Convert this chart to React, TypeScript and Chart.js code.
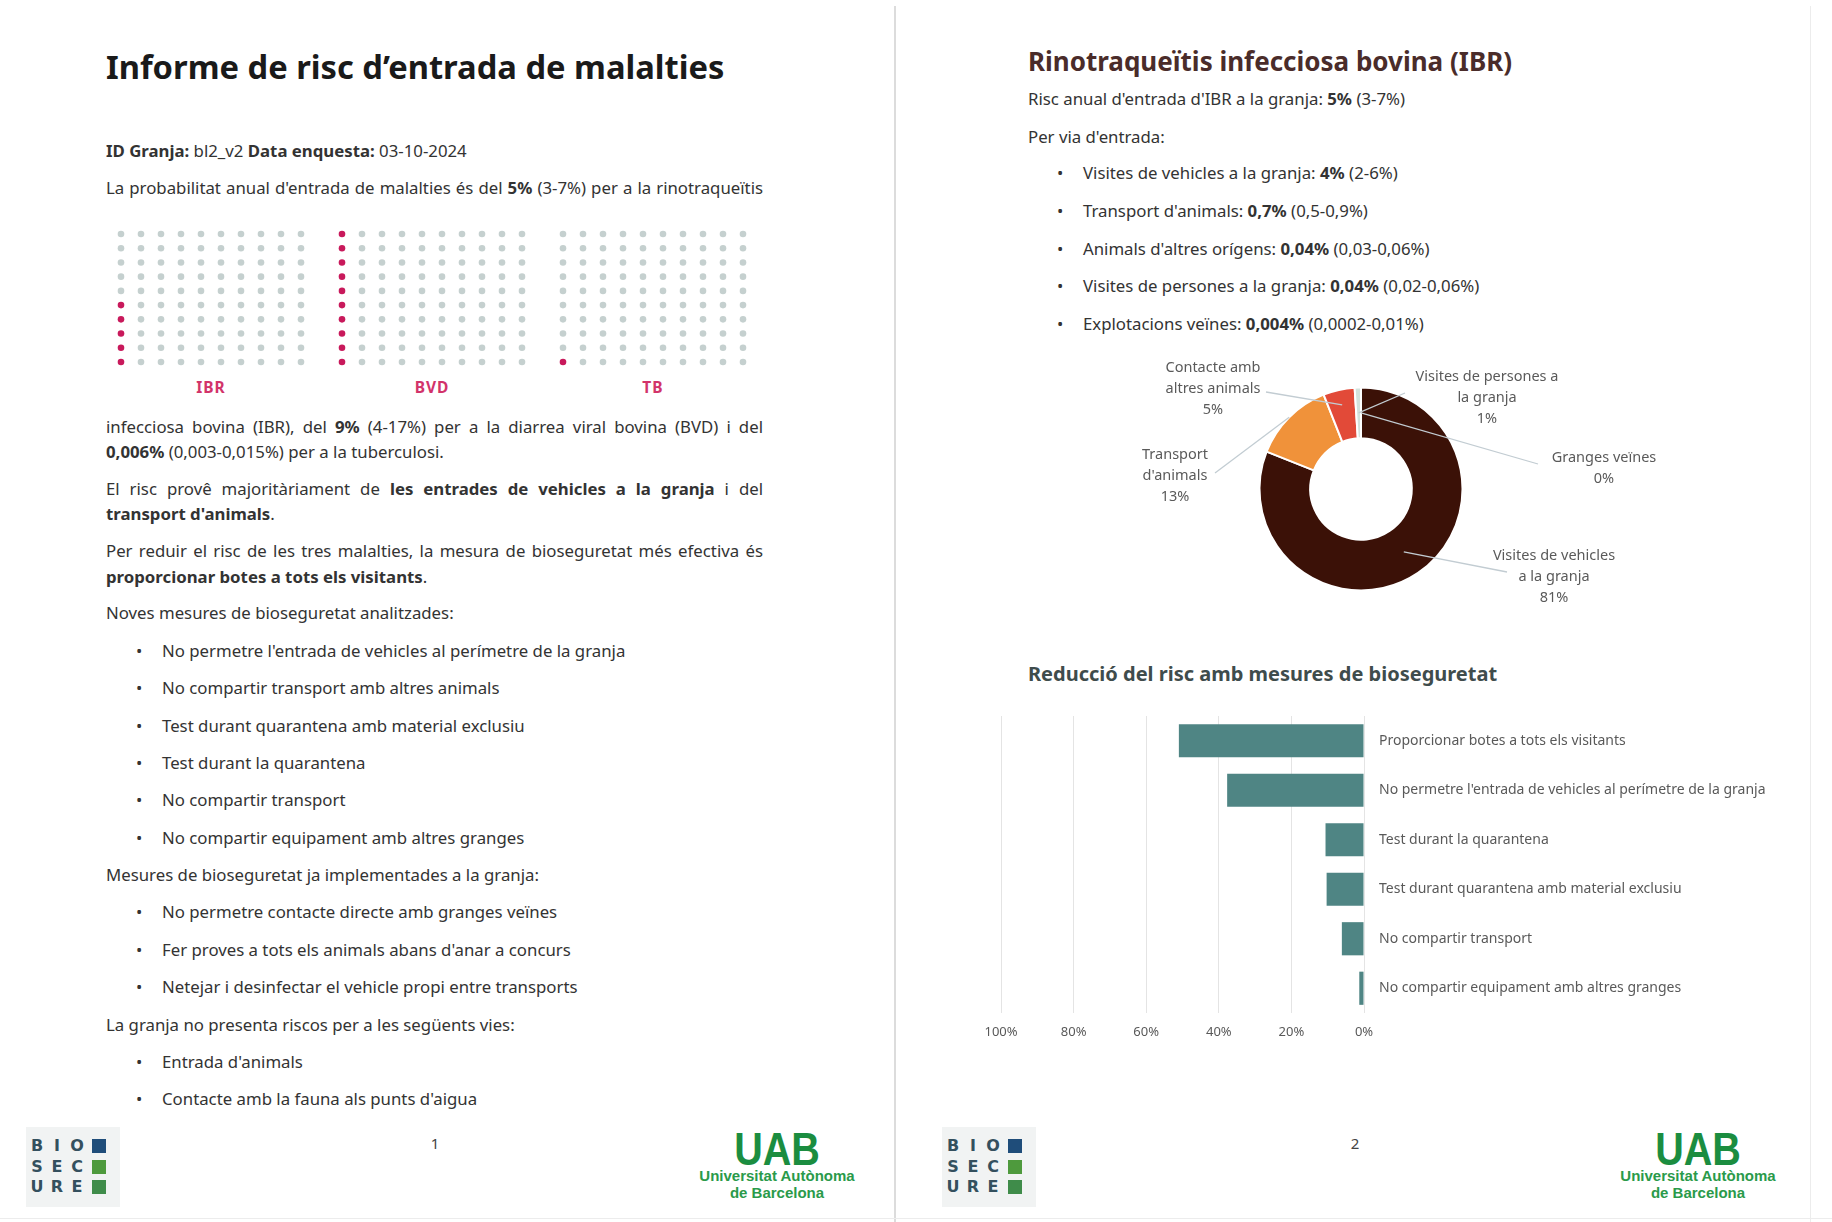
import React, { useEffect, useRef } from "react";
import { Chart, registerables } from "chart.js";

Chart.register(...registerables);

// ---------------- data ----------------
const waffleDiseases = ["IBR", "BVD", "TB"];
const waffleRedDots = [5, 10, 1];
const waffleGridSize = 10;

const routeNames = [
  "Visites de vehicles a la granja",
  "Transport d'animals",
  "Contacte amb altres animals",
  "Visites de persones a la granja",
  "Granges veïnes",
];
const routeLabelLines = [
  ["Visites de vehicles", "a la granja"],
  ["Transport", "d'animals"],
  ["Contacte amb", "altres animals"],
  ["Visites de persones a", "la granja"],
  ["Granges veïnes"],
];
const routeShares = [81, 13, 5, 1, 0];

const measureLabels = [
  "Proporcionar botes a tots els visitants",
  "No permetre l'entrada de vehicles al perímetre de la granja",
  "Test durant la quarantena",
  "Test durant quarantena amb material exclusiu",
  "No compartir transport",
  "No compartir equipament amb altres granges",
];
const measureReduction = [51, 37.7, 10.6, 10.3, 6.1, 1.3];
const reductionTicks = [0, 20, 40, 60, 80, 100];

// ---------------- style ----------------
const FONT = '"Noto Sans", "Open Sans", sans-serif';
const RED = "#c8195b";
const GREY = "#c5d0cf";
const routeColors = ["#3b1107", "#f0923a", "#e24a38", "#d3e2dc", "#9e9e9e"];
// label layout (canvas coords) for donut labels
const donutLabelPos = [
  { x: 434, y: 216, ax: 387, ay: 232, depth: 0.5 },
  { x: 55, y: 114.5, ax: 95, ay: 133, depth: 0 },
  { x: 93, y: 28, ax: 146, ay: 52, depth: 0.3 },
  { x: 367, y: 37, ax: 285, ay: 53, depth: 0.5 },
  { x: 484, y: 118, ax: 418, ay: 124, depth: 0.5 },
];

Chart.defaults.font.family = FONT;

function Waffle({ index, left, top }: { index: number; left: number; top: number }) {
  const ref = useRef<HTMLCanvasElement>(null);
  useEffect(() => {
    const pts: { x: number; y: number }[] = [];
    const colors: string[] = [];
    for (let c = 0; c < waffleGridSize; c++) {
      for (let r = 0; r < waffleGridSize; r++) {
        const i = c * waffleGridSize + r;
        pts.push({ x: c, y: r });
        colors.push(i < waffleRedDots[index] ? RED : GREY);
      }
    }
    const chart = new Chart(ref.current!, {
      type: "scatter",
      data: {
        datasets: [
          {
            data: pts,
            pointBackgroundColor: colors,
            pointBorderWidth: 0,
            pointRadius: 3.3,
            clip: false,
          } as any,
        ],
      },
      options: {
        responsive: false,
        animation: false,
        events: [],
        layout: { padding: 10 },
        scales: {
          x: { display: false, min: 0, max: waffleGridSize - 1 },
          y: { display: false, min: 0, max: waffleGridSize - 1 },
        },
        plugins: { legend: { display: false }, tooltip: { enabled: false } },
      },
    });
    return () => chart.destroy();
  }, [index]);
  return (
    <>
      <canvas ref={ref} width={200} height={148} style={{ position: "absolute", left, top }} />
      <div
        style={{
          position: "absolute",
          left,
          width: 200,
          top: 376,
          lineHeight: "22px",
          textAlign: "center",
          color: "#d2336a",
          fontWeight: 700,
          fontSize: 15.5,
          letterSpacing: 1,
        }}
      >
        {waffleDiseases[index]}
      </div>
    </>
  );
}

const donutLabelPlugin = {
  id: "donutLabels",
  afterDatasetsDraw(chart: any) {
    const ctx = chart.ctx as CanvasRenderingContext2D;
    const meta = chart.getDatasetMeta(0);
    meta.data.forEach((arc: any, i: number) => {
      const p = arc.getProps(["x", "y", "startAngle", "endAngle", "innerRadius", "outerRadius"], true);
      const mid = (p.startAngle + p.endAngle) / 2;
      const L = donutLabelPos[i];
      const r = p.outerRadius - L.depth * (p.outerRadius - p.innerRadius);
      const ex = p.x + Math.cos(mid) * r;
      const ey = p.y + Math.sin(mid) * r;
      ctx.save();
      ctx.strokeStyle = "#c2ccd2";
      ctx.lineWidth = 1.3;
      ctx.beginPath();
      ctx.moveTo(L.ax, L.ay);
      ctx.lineTo(ex, ey);
      ctx.stroke();
      ctx.fillStyle = "#5a5a5a";
      ctx.font = `14.5px ${FONT}`;
      ctx.textAlign = "center";
      ctx.textBaseline = "middle";
      const lines = [...routeLabelLines[i], `${routeShares[i]}%`];
      lines.forEach((t, k) => ctx.fillText(t, L.x, L.y + k * 21));
      ctx.restore();
    });
  },
};

function Donut() {
  const ref = useRef<HTMLCanvasElement>(null);
  useEffect(() => {
    const chart = new Chart(ref.current!, {
      type: "doughnut",
      data: {
        labels: routeNames,
        datasets: [
          {
            data: routeShares,
            backgroundColor: routeColors,
            borderColor: "#ffffff",
            borderWidth: 2,
          },
        ],
      },
      options: {
        responsive: false,
        animation: false,
        events: [],
        cutout: "50%",
        layout: { padding: { left: 138.5, right: 276.5, top: 46.5, bottom: 38.5 } },
        plugins: { legend: { display: false }, tooltip: { enabled: false } },
      },
      plugins: [donutLabelPlugin],
    });
    return () => chart.destroy();
  }, []);
  return <canvas ref={ref} width={620} height={290} style={{ position: "absolute", left: 1120, top: 340 }} />;
}

function Bars() {
  const ref = useRef<HTMLCanvasElement>(null);
  useEffect(() => {
    const chart = new Chart(ref.current!, {
      type: "bar",
      data: {
        labels: measureLabels,
        datasets: [
          {
            data: measureReduction,
            backgroundColor: "#4f8584",
            categoryPercentage: 1,
            barPercentage: 0.67,
          },
        ],
      },
      options: {
        indexAxis: "y",
        responsive: false,
        animation: false,
        events: [],
        layout: { padding: { left: 21, right: 16, top: 16, bottom: 7 } },
        plugins: { legend: { display: false }, tooltip: { enabled: false } },
        scales: {
          x: {
            reverse: true,
            min: 0,
            max: 100,
            afterBuildTicks: (s: any) => {
              s.ticks = reductionTicks.map((v) => ({ value: v }));
            },
            ticks: {
              callback: (v: any) => `${v}%`,
              color: "#595959",
              font: { size: 13, family: FONT },
              padding: 11,
              maxRotation: 0,
            },
            grid: { color: "#e4e4e4", drawTicks: false },
            border: { display: false },
            afterFit: (s: any) => {
              s.height = 30;
              s.paddingLeft = 0;
              s.paddingRight = 0;
            },
          },
          y: {
            position: "right",
            ticks: { color: "#595959", font: { size: 14, family: FONT }, padding: 15 },
            grid: { display: false, drawTicks: false },
            border: { display: false },
            afterFit: (s: any) => {
              s.width = 420;
              s.paddingTop = 0;
              s.paddingBottom = 0;
            },
          },
        },
      },
    });
    return () => chart.destroy();
  }, []);
  return <canvas ref={ref} width={820} height={350} style={{ position: "absolute", left: 980, top: 700 }} />;
}

const LH = 24.4;

function Line({
  x,
  cy,
  w,
  justify,
  children,
  style,
}: {
  x: number;
  cy: number;
  w?: number;
  justify?: boolean;
  children: React.ReactNode;
  style?: React.CSSProperties;
}) {
  return (
    <div
      style={{
        position: "absolute",
        left: x,
        top: cy - LH / 2,
        width: w,
        lineHeight: `${LH}px`,
        whiteSpace: "nowrap",
        textAlign: justify ? "justify" : "left",
        textAlignLast: justify ? "justify" : "left",
        ...style,
      }}
    >
      {children}
    </div>
  );
}

function Bullet({ bx, tx, cy, children, size }: { bx: number; tx: number; cy: number; children: React.ReactNode; size: number }) {
  return (
    <>
      <Line x={bx} cy={cy} style={{ fontSize: size }}>
        •
      </Line>
      <Line x={tx} cy={cy} style={{ fontSize: size }}>
        {children}
      </Line>
    </>
  );
}

function BioSecure({ left }: { left: number }) {
  const rows = [
    ["B", "I", "O", "#1f4d7a"],
    ["S", "E", "C", "#4e9a3d"],
    ["U", "R", "E", "#3f8c4a"],
  ];
  return (
    <div
      style={{
        position: "absolute",
        left,
        top: 1127,
        width: 94,
        height: 80,
        background: "#f1f3f3",
      }}
    >
      {rows.map((r, k) => (
        <div key={k} style={{ position: "absolute", top: 11 + k * 20.5, left: 0, height: 16 }}>
          {[0, 1, 2].map((j) => (
            <span
              key={j}
              style={{
                position: "absolute",
                left: 4 + j * 20,
                width: 14,
                textAlign: "center",
                fontFamily: '"DejaVu Sans", sans-serif',
                fontWeight: 700,
                fontSize: 16,
                lineHeight: "16px",
                color: "#34505e",
              }}
            >
              {r[j]}
            </span>
          ))}
          <span
            style={{
              position: "absolute",
              left: 66,
              top: 1,
              width: 14,
              height: 14,
              background: r[3],
            }}
          />
        </div>
      ))}
    </div>
  );
}

function UAB({ cx }: { cx: number }) {
  return (
    <div style={{ position: "absolute", left: cx - 110, top: 1126, width: 220, textAlign: "center", color: "#1b8d40" }}>
      <div
        style={{
          fontFamily: '"Liberation Sans", Arial, sans-serif',
          fontWeight: 700,
          fontSize: 46,
          lineHeight: "46px",
          transform: "scaleX(0.86)",
        }}
      >
        UAB
      </div>
      <div
        style={{
          fontFamily: '"Liberation Sans", Arial, sans-serif',
          fontWeight: 700,
          fontSize: 15,
          lineHeight: "16.5px",
          marginTop: -4,
          color: "#2a9a4a",
        }}
      >
        Universitat Autònoma
        <br />
        de Barcelona
      </div>
    </div>
  );
}

export default function App() {
  useEffect(() => {
    document.body.style.margin = "0";
    document.body.style.background = "#ffffff";
  }, []);
  const P1 = 106;
  const W1 = 657;
  const P2 = 1028;
  const fs1 = 16.8;
  const fs2 = 16.8;
  const b1 = [651, 688.5, 726, 763, 800.5, 838];
  const b2 = [912.5, 950, 987];
  const b3 = [1062, 1099.5];
  const b4 = [173, 211, 249, 286, 324];
  const newMeasures = [
    "No permetre l'entrada de vehicles al perímetre de la granja",
    "No compartir transport amb altres animals",
    "Test durant quarantena amb material exclusiu",
    "Test durant la quarantena",
    "No compartir transport",
    "No compartir equipament amb altres granges",
  ];
  const implemented = [
    "No permetre contacte directe amb granges veïnes",
    "Fer proves a tots els animals abans d'anar a concurs",
    "Netejar i desinfectar el vehicle propi entre transports",
  ];
  const noRisk = ["Entrada d'animals", "Contacte amb la fauna als punts d'aigua"];
  const routesText: [string, string, string][] = [
    ["Visites de vehicles a la granja: ", "4%", " (2-6%)"],
    ["Transport d'animals: ", "0,7%", " (0,5-0,9%)"],
    ["Animals d'altres orígens: ", "0,04%", " (0,03-0,06%)"],
    ["Visites de persones a la granja: ", "0,04%", " (0,02-0,06%)"],
    ["Explotacions veïnes: ", "0,004%", " (0,0002-0,01%)"],
  ];
  return (
    <div
      style={{
        position: "absolute",
        left: 0,
        top: 0,
        width: 1832,
        height: 1222,
        overflow: "hidden",
        background: "#fff",
        fontFamily: FONT,
        color: "#333",
      }}
    >
      {/* page frame lines */}
      <div style={{ position: "absolute", left: 894, top: 6, width: 2, height: 1216, background: "#dcdcdc" }} />
      <div style={{ position: "absolute", left: 1810, top: 6, width: 1, height: 1216, background: "#ececec" }} />
      <div style={{ position: "absolute", left: 0, top: 1218, width: 1832, height: 1, background: "#ececec" }} />

      {/* ---------- page 1 ---------- */}
      <div
        style={{
          position: "absolute",
          left: P1,
          top: 46.6,
          fontSize: 32.7,
          lineHeight: "40px",
          fontWeight: 700,
          color: "#1a1a1a",
          whiteSpace: "nowrap",
        }}
      >
        Informe de risc d’entrada de malalties
      </div>
      <Line x={P1} cy={150.7} style={{ fontSize: fs1 }}>
        <b>ID Granja:</b> bl2_v2 <b>Data enquesta:</b> 03-10-2024
      </Line>
      <Line x={P1} cy={188} w={W1} justify style={{ fontSize: fs1 }}>
        La probabilitat anual d'entrada de malalties és del <b>5%</b> (3-7%) per a la rinotraqueïtis
      </Line>

      {waffleDiseases.map((d, i) => (
        <Waffle key={d} index={i} left={111 + i * 221} top={224} />
      ))}

      <Line x={P1} cy={427.6} w={W1} justify style={{ fontSize: fs1 }}>
        infecciosa bovina (IBR), del <b>9%</b> (4-17%) per a la diarrea viral bovina (BVD) i del
      </Line>
      <Line x={P1} cy={452} style={{ fontSize: fs1 }}>
        <b>0,006%</b> (0,003-0,015%) per a la tuberculosi.
      </Line>
      <Line x={P1} cy={489.6} w={W1} justify style={{ fontSize: fs1 }}>
        El risc provê majoritàriament de <b>les entrades de vehicles a la granja</b> i del
      </Line>
      <Line x={P1} cy={514} style={{ fontSize: fs1 }}>
        <b>transport d'animals</b>.
      </Line>
      <Line x={P1} cy={551.5} w={W1} justify style={{ fontSize: fs1 }}>
        Per reduir el risc de les tres malalties, la mesura de bioseguretat més efectiva és
      </Line>
      <Line x={P1} cy={577} style={{ fontSize: fs1 }}>
        <b>proporcionar botes a tots els visitants</b>.
      </Line>
      <Line x={P1} cy={613} style={{ fontSize: fs1 }}>
        Noves mesures de bioseguretat analitzades:
      </Line>
      {newMeasures.map((t, i) => (
        <Bullet key={t} bx={136} tx={162} cy={b1[i]} size={fs1}>
          {t}
        </Bullet>
      ))}
      <Line x={P1} cy={875} style={{ fontSize: fs1 }}>
        Mesures de bioseguretat ja implementades a la granja:
      </Line>
      {implemented.map((t, i) => (
        <Bullet key={t} bx={136} tx={162} cy={b2[i]} size={fs1}>
          {t}
        </Bullet>
      ))}
      <Line x={P1} cy={1024.7} style={{ fontSize: fs1 }}>
        La granja no presenta riscos per a les següents vies:
      </Line>
      {noRisk.map((t, i) => (
        <Bullet key={t} bx={136} tx={162} cy={b3[i]} size={fs1}>
          {t}
        </Bullet>
      ))}

      <BioSecure left={26} />
      <div style={{ position: "absolute", left: 420, width: 30, top: 1133, textAlign: "center", fontSize: 15, color: "#444" }}>1</div>
      <UAB cx={777} />

      {/* ---------- page 2 ---------- */}
      <div
        style={{
          position: "absolute",
          left: P2,
          top: 43.8,
          fontSize: 26,
          lineHeight: "34px",
          fontWeight: 700,
          color: "#4a2c2a",
          whiteSpace: "nowrap",
        }}
      >
        Rinotraqueïtis infecciosa bovina (IBR)
      </div>
      <Line x={P2} cy={99} style={{ fontSize: fs2 }}>
        Risc anual d'entrada d'IBR a la granja: <b>5%</b> (3-7%)
      </Line>
      <Line x={P2} cy={137} style={{ fontSize: fs2 }}>
        Per via d'entrada:
      </Line>
      {routesText.map((t, i) => (
        <Bullet key={t[0]} bx={1057} tx={1083} cy={b4[i]} size={fs2}>
          {t[0]}
          <b>{t[1]}</b>
          {t[2]}
        </Bullet>
      ))}

      <Donut />

      <div
        style={{
          position: "absolute",
          left: P2,
          top: 662,
          fontSize: 20,
          lineHeight: "24px",
          fontWeight: 700,
          color: "#3f4c4c",
          whiteSpace: "nowrap",
        }}
      >
        Reducció del risc amb mesures de bioseguretat
      </div>
      <Bars />

      <BioSecure left={942} />
      <div style={{ position: "absolute", left: 1340, width: 30, top: 1133, textAlign: "center", fontSize: 15, color: "#444" }}>2</div>
      <UAB cx={1698} />
    </div>
  );
}
